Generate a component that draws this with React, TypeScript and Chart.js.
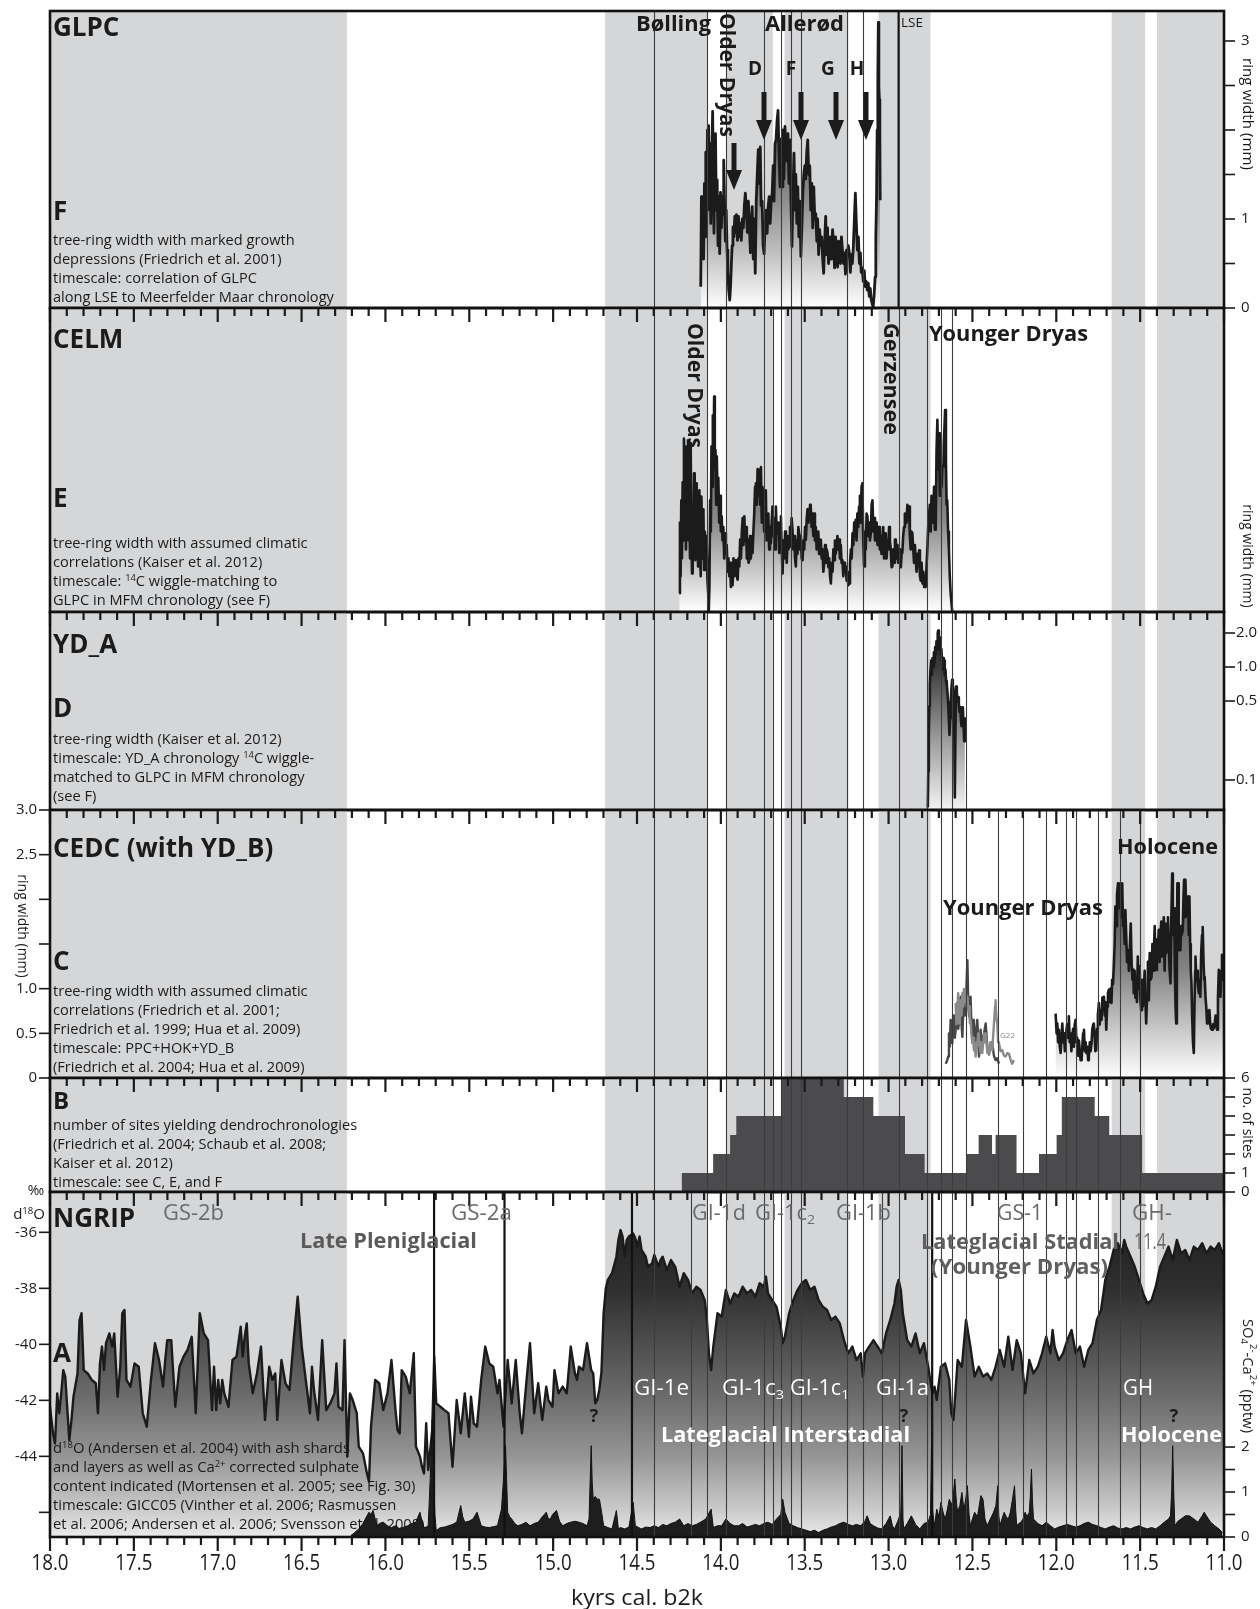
import React, { useEffect, useRef } from 'react';
import { Chart, registerables } from 'chart.js';
Chart.register(...registerables);

const FONT = '"Open Sans", "Noto Sans", "DejaVu Sans", sans-serif';
const INK = '#1b1b1b';
const BAND = '#d5d6d8';
const GREY_TXT = '#6a6b6d';
const DESC_SIZE = 14.6;

// ---------- axis / tick labels ----------
const X_TICK_VALUES = [18.0, 17.5, 17.0, 16.5, 16.0, 15.5, 15.0, 14.5, 14.0, 13.5, 13.0, 12.5, 12.0, 11.5, 11.0];
const X_TICK_LABELS = ['18.0', '17.5', '17.0', '16.5', '16.0', '15.5', '15.0', '14.5', '14.0', '13.5', '13.0', '12.5', '12.0', '11.5', '11.0'];

// grey chronozone bands (kyr b2k)
const GREY_BANDS: [number, number][] = [[18.0, 16.23], [14.69, 14.08], [13.97, 13.69], [13.62, 13.24], [13.06, 12.75], [11.67, 11.47], [11.40, 11.0]];

// vertical marker lines per panel (kyr b2k)
const LINES_F = [14.40, 14.08, 13.97, 13.74, 13.64, 13.58, 13.52, 13.25, 13.15];
const LINES_E = [...LINES_F, 13.69, 12.94, 12.77, 12.69, 12.62];
const LINES_D = [...LINES_E, 12.54];
const LINES_C = [...LINES_D, 12.35, 12.20, 12.06, 11.94, 11.88, 11.75, 11.62, 11.50];
const LINES_A = [...LINES_C, 14.18, 13.04];
const THICK_F = [12.94];
const THICK_A = [15.71, 15.29, 14.53, 12.74];

// ---------- F: GLPC ring width (mm) ----------
const GLPC: [number, number][] = [
[14.120,0.24],[14.116,1.25],[14.113,0.60],[14.108,1.21],[14.103,0.55],[14.098,1.40],[14.094,0.80],[14.090,1.75],[14.085,1.00],[14.080,2.00],
[14.076,1.30],[14.073,2.05],[14.068,1.10],[14.064,1.85],[14.060,0.95],[14.055,1.60],[14.049,2.21],[14.045,1.50],[14.041,0.84],[14.037,1.70],
[14.032,1.96],[14.027,1.10],[14.022,1.44],[14.017,0.70],[14.012,1.25],[14.007,0.61],[14.002,1.30],[13.997,0.90],[13.992,1.25],[13.987,1.05],
[13.983,1.66],[13.978,1.20],[13.973,0.75],[13.968,1.10],[13.963,0.65],[13.958,0.40],[13.953,0.20],[13.947,0.09],[13.942,0.25],[13.938,0.46],
[13.933,0.70],[13.928,0.91],[13.922,0.80],[13.917,1.03],[13.912,0.85],[13.907,1.05],[13.901,0.76],[13.895,1.03],[13.889,0.80],[13.884,0.95],
[13.878,0.76],[13.872,1.00],[13.866,0.90],[13.860,1.15],[13.854,1.29],[13.848,1.10],[13.842,0.85],[13.836,1.20],[13.830,0.95],[13.824,0.62],
[13.819,0.90],[13.813,1.14],[13.807,0.55],[13.801,1.00],[13.795,0.39],[13.789,1.20],[13.783,1.50],[13.777,1.78],[13.771,1.40],[13.765,1.81],
[13.760,1.15],[13.754,1.20],[13.748,0.70],[13.742,0.61],[13.736,0.95],[13.730,1.10],[13.724,0.84],[13.718,1.14],[13.712,1.25],[13.706,0.95],
[13.700,1.20],[13.694,1.29],[13.688,1.60],[13.683,1.20],[13.677,1.85],[13.671,1.89],[13.665,2.10],[13.659,2.22],[13.653,1.70],[13.647,1.36],
[13.641,1.90],[13.635,1.36],[13.630,2.00],[13.624,1.45],[13.618,2.04],[13.612,1.80],[13.606,1.65],[13.600,1.96],[13.594,1.40],[13.588,1.89],
[13.582,1.20],[13.576,0.69],[13.570,1.30],[13.564,1.74],[13.558,1.10],[13.553,1.50],[13.547,0.95],[13.541,1.36],[13.535,0.80],[13.529,1.20],
[13.523,0.58],[13.517,0.90],[13.511,1.30],[13.505,1.51],[13.499,1.60],[13.494,1.45],[13.488,1.75],[13.482,1.89],[13.476,1.50],[13.470,1.60],
[13.464,1.10],[13.458,1.40],[13.452,0.90],[13.446,1.36],[13.440,1.00],[13.434,1.06],[13.428,0.75],[13.423,1.00],[13.417,0.60],[13.411,0.88],
[13.405,0.70],[13.399,0.80],[13.393,0.55],[13.387,0.39],[13.381,0.75],[13.375,1.03],[13.370,0.60],[13.364,0.90],[13.358,0.50],[13.352,0.58],
[13.346,0.80],[13.340,0.55],[13.334,0.88],[13.328,0.73],[13.322,0.45],[13.316,0.80],[13.310,0.60],[13.304,0.46],[13.298,0.75],[13.293,0.68],
[13.287,0.50],[13.281,0.80],[13.275,0.65],[13.269,0.50],[13.263,0.62],[13.257,0.38],[13.251,0.65],[13.245,0.58],[13.240,0.70],[13.234,0.62],
[13.228,0.40],[13.222,0.60],[13.216,0.50],[13.210,0.69],[13.204,1.00],[13.198,1.29],[13.192,0.95],[13.186,0.65],[13.180,0.80],[13.174,0.50],
[13.168,0.62],[13.163,0.40],[13.157,0.45],[13.151,0.30],[13.145,0.42],[13.139,0.24],[13.133,0.30],[13.127,0.20],[13.121,0.28],[13.115,0.13],
[13.109,0.22],[13.104,0.10],[13.098,0.05],[13.092,0.01],[13.086,0.15],[13.080,0.35],[13.076,0.80],[13.072,1.21],[13.068,2.00],[13.064,2.60],
[13.061,3.21],[13.058,2.50],[13.055,2.34],[13.052,1.90],[13.050,1.21]
];

// ---------- E: CELM ring width ----------
const CELM: [number, number][] = [
[14.248,0.21],[14.244,1.00],[14.240,0.40],[14.236,1.25],[14.232,0.60],[14.228,1.45],[14.224,0.80],[14.220,1.94],[14.216,1.10],[14.212,1.85],
[14.208,0.70],[14.204,1.60],[14.200,0.95],[14.196,1.92],[14.192,0.80],[14.188,1.30],[14.184,0.60],[14.180,1.89],[14.176,0.90],[14.172,0.43],
[14.168,1.20],[14.164,0.70],[14.160,1.55],[14.156,1.00],[14.152,0.58],[14.148,1.44],[14.144,0.80],[14.140,1.20],[14.136,0.51],[14.132,1.10],
[14.128,1.36],[14.124,0.70],[14.120,0.40],[14.116,1.29],[14.112,0.90],[14.108,0.60],[14.104,1.15],[14.100,0.47],[14.096,0.90],[14.090,0.70],
[14.085,0.85],[14.080,0.35],[14.075,0.20],[14.072,0.02],[14.068,0.30],[14.064,1.25],[14.060,0.90],[14.056,1.85],[14.052,1.40],[14.048,2.20],
[14.044,1.60],[14.040,2.41],[14.036,1.70],[14.032,1.81],[14.028,1.20],[14.024,1.74],[14.020,1.30],[14.015,1.50],[14.010,1.00],[14.005,1.30],
[14.000,0.90],[13.995,1.07],[13.990,0.80],[13.985,0.95],[13.980,0.60],[13.975,0.88],[13.970,0.66],[13.965,0.75],[13.960,0.45],[13.955,0.60],
[13.950,0.40],[13.945,0.55],[13.940,0.28],[13.935,0.45],[13.930,0.30],[13.925,0.60],[13.920,0.40],[13.915,0.55],[13.910,0.58],[13.905,0.40],
[13.900,0.36],[13.895,0.60],[13.890,0.51],[13.885,0.81],[13.880,0.60],[13.875,0.90],[13.870,1.05],[13.865,0.75],[13.860,1.07],[13.855,0.80],
[13.850,0.95],[13.845,0.60],[13.840,0.81],[13.835,0.55],[13.831,0.58],[13.826,0.85],[13.821,0.60],[13.816,0.75],[13.811,0.66],[13.806,0.90],
[13.801,1.10],[13.796,1.40],[13.791,1.44],[13.786,1.20],[13.781,1.60],[13.776,1.30],[13.771,1.59],[13.766,1.20],[13.761,1.62],[13.756,1.00],
[13.752,1.40],[13.747,1.29],[13.742,0.90],[13.737,1.20],[13.732,1.36],[13.727,0.80],[13.722,0.88],[13.717,1.10],[13.712,0.70],[13.707,0.95],
[13.702,0.77],[13.697,1.00],[13.692,1.18],[13.687,0.85],[13.682,1.05],[13.677,0.70],[13.672,1.18],[13.667,0.90],[13.662,0.88],[13.657,1.00],
[13.652,0.66],[13.647,0.85],[13.642,1.07],[13.637,0.70],[13.632,0.43],[13.627,0.80],[13.622,0.60],[13.617,0.90],[13.612,0.77],[13.607,0.55],
[13.602,0.85],[13.598,0.70],[13.593,0.73],[13.588,0.95],[13.583,0.80],[13.578,1.05],[13.573,0.92],[13.568,0.70],[13.563,0.85],[13.558,0.60],
[13.553,0.51],[13.548,0.80],[13.543,0.65],[13.538,0.95],[13.533,0.88],[13.528,0.70],[13.523,0.85],[13.518,0.60],[13.513,0.58],[13.508,0.80],
[13.503,0.70],[13.498,0.95],[13.493,0.81],[13.488,1.05],[13.483,1.15],[13.478,1.00],[13.473,1.07],[13.468,1.20],[13.464,1.18],[13.459,0.95],
[13.454,1.10],[13.449,0.85],[13.444,1.10],[13.439,0.80],[13.434,0.95],[13.429,0.70],[13.424,0.77],[13.419,0.90],[13.414,0.65],[13.409,0.80],
[13.404,0.81],[13.399,0.60],[13.394,0.70],[13.389,0.45],[13.384,0.54],[13.379,0.75],[13.374,0.55],[13.369,0.70],[13.364,0.66],[13.359,0.50],
[13.354,0.60],[13.349,0.40],[13.344,0.32],[13.339,0.55],[13.334,0.45],[13.329,0.70],[13.325,0.58],[13.320,0.80],[13.315,0.65],[13.310,0.75],
[13.305,0.85],[13.300,0.70],[13.295,0.81],[13.290,0.60],[13.285,0.75],[13.280,0.55],[13.275,0.58],[13.270,0.40],[13.265,0.55],[13.260,0.45],
[13.255,0.51],[13.250,0.35],[13.245,0.45],[13.240,0.30],[13.235,0.32],[13.230,0.55],[13.225,0.70],[13.220,0.60],[13.215,0.88],[13.210,0.75],
[13.205,1.00],[13.200,0.85],[13.196,1.03],[13.191,0.80],[13.186,1.10],[13.181,0.95],[13.176,1.18],[13.171,1.30],[13.166,1.00],[13.161,1.40],
[13.156,1.44],[13.151,0.80],[13.146,0.51],[13.141,0.90],[13.136,0.70],[13.131,1.10],[13.126,1.07],[13.121,0.85],[13.116,1.00],[13.111,0.80],
[13.106,0.88],[13.101,1.20],[13.096,1.25],[13.091,0.90],[13.086,1.05],[13.081,0.80],[13.076,0.81],[13.071,1.00],[13.066,0.75],[13.061,0.95],
[13.057,0.95],[13.052,0.70],[13.047,0.85],[13.042,0.65],[13.037,0.81],[13.032,0.95],[13.027,0.60],[13.022,0.88],[13.017,0.88],[13.012,0.60],
[13.007,0.80],[13.002,0.70],[12.997,0.95],[12.992,0.80],[12.987,0.70],[12.982,0.50],[12.977,0.51],[12.972,0.70],[12.967,0.55],[12.962,0.81],
[12.957,0.81],[12.952,0.60],[12.947,0.75],[12.942,0.55],[12.937,0.58],[12.932,0.70],[12.927,0.50],[12.922,0.66],[12.918,0.66],[12.913,0.85],
[12.908,0.95],[12.903,1.10],[12.898,1.07],[12.893,1.00],[12.888,1.20],[12.883,1.03],[12.878,1.18],[12.873,0.85],[12.868,0.70],[12.863,0.90],
[12.858,0.88],[12.853,0.70],[12.848,0.55],[12.843,0.75],[12.838,0.58],[12.833,0.45],[12.828,0.65],[12.823,0.50],[12.818,0.69],[12.813,0.40],
[12.808,0.35],[12.803,0.55],[12.798,0.32],[12.793,0.45],[12.788,0.28],[12.783,0.40],[12.779,0.28],[12.774,0.50],[12.769,0.70],[12.764,0.95],
[12.759,1.07],[12.754,1.20],[12.749,0.90],[12.744,1.30],[12.739,1.25],[12.734,1.00],[12.729,1.40],[12.724,0.92],[12.719,0.92],[12.714,1.80],
[12.709,2.15],[12.704,1.60],[12.699,2.00],[12.694,1.30],[12.689,1.92],[12.684,1.40],[12.680,1.63],[12.675,1.63],[12.670,1.90],[12.666,2.10],
[12.663,2.26],[12.658,1.70],[12.654,1.20],[12.650,1.25],[12.645,0.90],[12.640,0.69],[12.635,0.40],[12.630,0.21],[12.625,0.10],[12.620,0.00]
];

// ---------- D: YD_A ring width (log mm) ----------
const YDA: [number, number][] = [
[12.766,0.057],[12.763,0.12],[12.760,0.25],[12.757,0.45],[12.754,0.70],[12.750,0.95],[12.746,1.14],[12.742,0.85],[12.738,1.20],[12.734,1.00],
[12.730,1.35],[12.726,1.10],[12.722,1.50],[12.718,1.30],[12.714,1.70],[12.710,1.45],[12.707,2.00],[12.704,2.10],[12.700,1.70],[12.696,1.85],
[12.693,1.60],[12.689,1.30],[12.685,1.45],[12.681,1.10],[12.679,0.95],[12.675,1.20],[12.671,1.00],[12.669,1.14],[12.665,0.85],[12.661,0.95],
[12.657,0.75],[12.653,0.70],[12.649,0.60],[12.645,0.49],[12.641,0.35],[12.637,0.25],[12.633,0.35],[12.629,0.49],[12.625,0.65],[12.621,0.77],
[12.617,0.70],[12.613,0.62],[12.609,0.40],[12.605,0.07],[12.601,0.30],[12.597,0.67],[12.593,0.60],[12.589,0.50],[12.585,0.54],[12.581,0.48],
[12.577,0.40],[12.573,0.44],[12.569,0.35],[12.565,0.30],[12.561,0.38],[12.557,0.44],[12.553,0.30],[12.549,0.22],[12.545,0.36]
];

// ---------- C: CEDC (with YD_B) ring width (mm) ----------
const CEDC_YD_DARK: [number, number][] = [
[12.659,0.16],[12.650,0.20],[12.645,0.24],[12.640,0.50],[12.635,0.35],[12.630,0.65],[12.625,0.40],[12.620,0.39],[12.615,0.70],[12.610,0.69],
[12.605,0.45],[12.600,0.54],[12.595,0.80],[12.590,0.84],[12.585,0.55],[12.580,0.61],[12.575,0.85],[12.570,0.91],[12.565,0.60],[12.560,0.46],
[12.555,0.75],[12.550,0.99],[12.545,0.70],[12.540,0.76],[12.535,1.05],[12.530,1.32],[12.525,0.85],[12.520,0.69],[12.515,0.80],[12.511,0.91],
[12.506,0.60],[12.501,0.46],[12.496,0.65],[12.491,0.61],[12.486,0.40],[12.481,0.39],[12.476,0.55],[12.471,0.65],[12.466,0.45],[12.461,0.24],
[12.456,0.40],[12.451,0.54],[12.446,0.35],[12.441,0.39],[12.431,0.50],[12.421,0.61],[12.411,0.35],[12.401,0.28],[12.391,0.40],[12.382,0.39],
[12.372,0.25],[12.362,0.20],[12.352,0.22],[12.342,0.16]
];
const CEDC_YD_LIGHT: [number, number][] = [
[12.600,0.84],[12.595,0.60],[12.590,0.75],[12.585,0.95],[12.580,0.61],[12.575,0.80],[12.570,0.87],[12.565,0.70],[12.560,0.95],[12.555,0.80],
[12.550,0.99],[12.545,0.85],[12.540,0.99],[12.535,0.80],[12.530,0.91],[12.525,0.76],[12.520,0.80],[12.515,0.61],[12.511,0.65],[12.506,0.50],
[12.501,0.39],[12.496,0.45],[12.491,0.31],[12.486,0.35],[12.481,0.24],[12.476,0.40],[12.471,0.36],[12.466,0.50],[12.461,0.46],[12.456,0.35],
[12.451,0.28],[12.446,0.40],[12.441,0.28],[12.431,0.50],[12.426,0.40],[12.421,0.50],[12.411,0.28],[12.406,0.35],[12.401,0.26],[12.391,0.40],
[12.382,0.31],[12.372,0.60],[12.365,0.80],[12.362,0.87],[12.358,0.70],[12.352,0.61],[12.347,0.40],[12.342,0.39],[12.332,0.30],[12.322,0.31],
[12.312,0.25],[12.302,0.24],[12.292,0.28],[12.282,0.27],[12.272,0.20],[12.263,0.16],[12.253,0.20]
];
const CEDC: [number, number][] = [
[12.004,0.72],[11.998,0.50],[11.994,0.61],[11.989,0.40],[11.984,0.54],[11.979,0.35],[11.974,0.28],[11.969,0.45],[11.964,0.61],[11.959,0.40],
[11.954,0.50],[11.949,0.30],[11.944,0.39],[11.939,0.55],[11.935,0.60],[11.930,0.45],[11.925,0.69],[11.920,0.40],[11.915,0.50],[11.910,0.30],
[11.905,0.46],[11.900,0.55],[11.895,0.35],[11.890,0.60],[11.885,0.65],[11.880,0.40],[11.875,0.45],[11.870,0.25],[11.865,0.42],[11.860,0.30],
[11.855,0.20],[11.849,0.20],[11.845,0.35],[11.840,0.50],[11.835,0.54],[11.830,0.30],[11.825,0.40],[11.821,0.28],[11.815,0.35],[11.810,0.20],
[11.806,0.24],[11.800,0.40],[11.795,0.30],[11.790,0.39],[11.785,0.55],[11.780,0.60],[11.776,0.61],[11.771,0.45],[11.767,0.30],[11.762,0.31],
[11.757,0.55],[11.752,0.70],[11.746,0.84],[11.741,0.60],[11.736,0.75],[11.730,0.65],[11.725,0.90],[11.720,0.80],[11.716,0.91],[11.711,0.70],
[11.707,0.85],[11.702,0.54],[11.697,0.80],[11.692,0.95],[11.686,0.99],[11.681,0.85],[11.676,1.00],[11.671,0.84],[11.667,1.10],[11.662,1.05],
[11.657,1.25],[11.652,1.50],[11.648,1.92],[11.643,1.70],[11.638,2.05],[11.632,2.18],[11.627,1.90],[11.622,2.10],[11.617,1.99],[11.612,1.80],
[11.607,2.18],[11.602,1.70],[11.597,1.73],[11.592,1.50],[11.588,1.88],[11.583,1.60],[11.578,1.30],[11.572,1.43],[11.567,1.20],[11.562,1.45],
[11.556,1.73],[11.551,1.30],[11.546,1.10],[11.541,1.21],[11.538,0.95],[11.533,1.20],[11.528,0.90],[11.524,1.13],[11.519,0.85],[11.514,1.36],
[11.508,1.00],[11.503,1.25],[11.499,0.90],[11.494,0.76],[11.489,1.10],[11.484,0.80],[11.478,0.99],[11.473,1.20],[11.469,0.90],[11.464,0.61],
[11.459,0.90],[11.454,1.30],[11.448,0.87],[11.443,1.40],[11.438,1.10],[11.432,1.13],[11.427,1.50],[11.422,1.20],[11.418,1.43],[11.413,1.70],
[11.409,1.25],[11.405,1.21],[11.400,1.55],[11.395,1.40],[11.389,1.66],[11.384,1.30],[11.379,1.60],[11.374,1.75],[11.369,1.36],[11.364,1.50],
[11.359,1.80],[11.354,1.20],[11.349,1.73],[11.344,1.40],[11.339,1.51],[11.334,1.80],[11.329,1.51],[11.324,1.20],[11.319,1.06],[11.314,1.80],
[11.309,2.29],[11.305,1.60],[11.301,1.66],[11.297,1.90],[11.293,1.20],[11.289,0.80],[11.285,0.61],[11.281,1.40],[11.278,2.18],[11.274,2.18],
[11.270,1.60],[11.266,1.43],[11.260,1.43],[11.256,1.70],[11.252,1.60],[11.246,1.66],[11.242,2.00],[11.238,2.22],[11.234,1.80],[11.230,2.22],
[11.226,1.90],[11.222,1.81],[11.218,1.81],[11.214,2.03],[11.210,1.60],[11.206,2.03],[11.202,1.50],[11.198,1.20],[11.194,1.06],[11.190,0.70],
[11.185,0.40],[11.180,0.28],[11.176,0.80],[11.172,1.20],[11.170,1.36],[11.165,1.10],[11.160,1.20],[11.156,1.06],[11.150,0.95],[11.145,1.10],
[11.141,0.91],[11.136,1.40],[11.131,1.60],[11.127,1.69],[11.122,1.30],[11.118,1.10],[11.115,1.13],[11.110,0.90],[11.106,0.80],[11.101,0.61],
[11.096,0.75],[11.091,0.70],[11.087,0.76],[11.082,0.60],[11.077,0.55],[11.071,0.54],[11.066,0.60],[11.060,0.56],[11.055,0.61],[11.050,0.70],
[11.045,0.58],[11.041,0.54],[11.036,0.90],[11.031,1.21],[11.026,1.00],[11.021,0.91],[11.016,1.20],[11.012,1.38],[11.005,1.10],[11.000,1.25]
];

// ---------- B: number of sites (step starts, kyr) ----------
const SITES_T = [14.234, 14.046, 13.945, 13.908, 13.638, 13.267, 13.091, 12.902, 12.785, 12.533, 12.463, 12.383, 12.362, 12.237, 12.103, 11.998, 11.967, 11.771, 11.684, 11.488, 11.0];
const SITES_N = [1, 2, 3, 4, 6, 5, 4, 2, 1, 2, 3, 2, 3, 1, 2, 3, 5, 4, 3, 1, 1];

// ---------- A: NGRIP d18O (permil) ----------
const NGRIP_D18O: [number, number][] = [
[18.000,-42.23],[17.982,-43.18],[17.970,-43.54],[17.957,-41.75],[17.945,-42.46],[17.933,-41.75],[17.921,-40.92],[17.909,-41.15],[17.885,-43.42],[17.872,-42.70],
[17.860,-41.87],[17.836,-41.04],[17.824,-39.13],[17.812,-38.89],[17.799,-40.92],[17.775,-41.04],[17.751,-41.27],[17.727,-41.39],[17.714,-42.46],[17.702,-40.68],
[17.690,-40.08],[17.678,-40.92],[17.666,-39.96],[17.646,-39.61],[17.629,-40.08],[17.617,-39.61],[17.597,-41.87],[17.581,-40.80],[17.569,-38.89],[17.556,-38.77],
[17.544,-41.27],[17.520,-41.51],[17.496,-40.68],[17.471,-40.80],[17.447,-42.46],[17.423,-42.94],[17.398,-41.27],[17.374,-39.96],[17.350,-40.56],[17.326,-41.51],
[17.313,-40.56],[17.301,-39.85],[17.277,-39.85],[17.253,-42.23],[17.228,-40.80],[17.204,-40.44],[17.180,-40.20],[17.155,-39.73],[17.131,-42.46],[17.107,-38.89],
[17.083,-39.61],[17.058,-39.85],[17.034,-42.35],[17.022,-40.80],[17.009,-42.35],[16.997,-41.27],[16.985,-42.11],[16.973,-41.27],[16.961,-41.75],[16.936,-42.23],
[16.912,-40.56],[16.888,-40.44],[16.863,-39.37],[16.851,-40.44],[16.839,-39.73],[16.827,-39.25],[16.815,-40.68],[16.791,-41.75],[16.766,-41.04],[16.742,-40.08],
[16.718,-42.70],[16.693,-40.80],[16.674,-41.27],[16.657,-41.04],[16.645,-42.70],[16.620,-40.56],[16.596,-41.39],[16.572,-41.63],[16.547,-39.85],[16.523,-38.30],
[16.499,-40.08],[16.475,-41.27],[16.450,-42.46],[16.438,-40.80],[16.426,-41.63],[16.402,-42.70],[16.377,-39.85],[16.353,-42.35],[16.329,-42.11],[16.304,-41.75],
[16.292,-40.68],[16.280,-42.23],[16.256,-42.35],[16.244,-39.85],[16.227,-44.01],[16.212,-41.75],[16.195,-41.99],[16.171,-42.46],[16.159,-43.65],[16.134,-43.89],
[16.110,-44.61],[16.098,-44.90],[16.086,-42.94],[16.061,-41.27],[16.037,-41.39],[16.013,-42.35],[15.988,-41.75],[15.964,-40.56],[15.940,-42.35],[15.928,-43.06],
[15.915,-43.18],[15.903,-40.92],[15.879,-41.15],[15.855,-41.75],[15.831,-40.32],[15.818,-43.65],[15.794,-44.01],[15.782,-44.37],[15.770,-44.61],[15.757,-42.82],
[15.745,-44.49],[15.721,-43.06],[15.709,-40.44],[15.697,-42.11],[15.672,-42.23],[15.648,-42.35],[15.624,-42.46],[15.600,-44.37],[15.575,-41.99],[15.551,-43.18],
[15.527,-41.75],[15.502,-43.30],[15.490,-41.87],[15.473,-42.82],[15.454,-42.94],[15.429,-41.27],[15.405,-40.08],[15.381,-40.68],[15.357,-40.80],[15.332,-41.75],
[15.320,-41.27],[15.296,-42.94],[15.271,-40.56],[15.247,-42.11],[15.223,-40.56],[15.199,-42.46],[15.186,-43.18],[15.162,-41.51],[15.138,-39.96],[15.113,-42.46],
[15.089,-41.39],[15.065,-42.70],[15.041,-41.51],[15.028,-41.99],[15.004,-42.23],[14.992,-40.92],[14.968,-41.75],[14.943,-41.51],[14.919,-41.75],[14.895,-40.08],
[14.870,-41.04],[14.858,-41.27],[14.846,-40.80],[14.822,-40.92],[14.798,-39.96],[14.773,-40.92],[14.761,-41.04],[14.749,-42.11],[14.737,-41.99],[14.725,-41.63],
[14.712,-41.00],[14.699,-38.89],[14.686,-38.00],[14.674,-37.70],[14.649,-37.46],[14.623,-36.87],[14.611,-36.27],[14.598,-35.92],[14.586,-36.15],[14.573,-36.87],
[14.561,-36.27],[14.548,-36.15],[14.523,-36.04],[14.510,-36.21],[14.498,-36.51],[14.485,-36.15],[14.473,-36.63],[14.448,-36.87],[14.435,-37.23],[14.410,-37.11],
[14.397,-36.81],[14.372,-37.23],[14.360,-36.99],[14.347,-36.87],[14.322,-37.35],[14.297,-36.99],[14.272,-37.23],[14.246,-37.94],[14.221,-37.46],[14.196,-37.70],
[14.171,-38.18],[14.146,-37.94],[14.121,-38.06],[14.096,-38.42],[14.083,-39.13],[14.071,-40.32],[14.058,-40.92],[14.045,-40.08],[14.020,-38.89],[13.995,-39.01],
[13.970,-38.06],[13.945,-38.54],[13.920,-38.18],[13.895,-38.30],[13.870,-37.94],[13.844,-38.18],[13.819,-38.06],[13.794,-38.30],[13.769,-37.82],[13.744,-37.94],
[13.731,-37.58],[13.719,-38.18],[13.694,-38.42],[13.668,-38.66],[13.643,-39.37],[13.631,-39.96],[13.618,-39.73],[13.593,-38.89],[13.568,-38.42],[13.543,-38.06],
[13.518,-37.82],[13.493,-37.70],[13.467,-38.06],[13.442,-37.94],[13.417,-38.42],[13.392,-38.66],[13.367,-38.77],[13.342,-39.13],[13.317,-39.01],[13.291,-39.25],
[13.266,-39.85],[13.241,-40.32],[13.216,-40.08],[13.191,-40.56],[13.166,-40.32],[13.153,-41.15],[13.141,-40.32],[13.116,-40.08],[13.090,-39.85],[13.065,-40.08],
[13.040,-40.32],[13.015,-39.61],[12.990,-39.13],[12.965,-38.54],[12.952,-37.94],[12.940,-37.70],[12.927,-38.06],[12.915,-38.89],[12.889,-39.85],[12.864,-40.08],
[12.839,-39.61],[12.814,-40.32],[12.789,-39.96],[12.764,-40.80],[12.739,-41.75],[12.726,-41.51],[12.713,-41.99],[12.688,-40.80],[12.663,-40.68],[12.638,-41.27],
[12.626,-42.46],[12.613,-42.70],[12.588,-40.56],[12.563,-40.80],[12.538,-39.13],[12.512,-40.08],[12.487,-41.15],[12.462,-40.80],[12.437,-41.15],[12.412,-41.04],
[12.387,-41.27],[12.362,-40.80],[12.337,-40.20],[12.311,-40.80],[12.286,-39.73],[12.261,-40.92],[12.236,-39.85],[12.211,-40.32],[12.186,-41.75],[12.161,-40.56],
[12.136,-41.04],[12.110,-40.80],[12.085,-40.32],[12.060,-39.73],[12.035,-40.32],[12.022,-39.49],[12.010,-40.08],[11.985,-40.56],[11.960,-40.32],[11.934,-39.85],
[11.909,-39.49],[11.884,-40.32],[11.859,-40.08],[11.834,-40.80],[11.809,-40.20],[11.784,-39.96],[11.758,-39.13],[11.733,-38.77],[11.708,-37.70],[11.683,-37.23],
[11.658,-36.63],[11.633,-36.39],[11.608,-36.75],[11.595,-36.27],[11.583,-36.51],[11.557,-36.87],[11.532,-37.23],[11.507,-37.70],[11.482,-38.18],[11.457,-38.54],
[11.432,-38.42],[11.407,-37.94],[11.381,-37.23],[11.356,-36.87],[11.331,-36.51],[11.306,-36.99],[11.281,-36.27],[11.256,-36.75],[11.231,-36.63],[11.206,-36.99],
[11.180,-36.51],[11.155,-36.63],[11.130,-36.39],[11.105,-36.75],[11.080,-36.51],[11.055,-36.63],[11.030,-36.39],[11.010,-36.75],[11.000,-36.60]
];

// ---------- A: NGRIP Ca-corrected sulphate (pptw) ----------
const NGRIP_SO4: [number, number][] = [
[16.207,0.03],[16.183,0.10],[16.159,0.18],[16.134,0.30],[16.110,0.47],[16.098,0.55],[16.086,0.50],[16.074,0.59],[16.061,0.40],[16.049,0.25],
[16.037,0.30],[16.013,0.33],[15.988,0.25],[15.964,0.21],[15.940,0.25],[15.915,0.18],[15.891,0.22],[15.867,0.25],[15.843,0.30],[15.818,0.33],
[15.806,0.45],[15.794,0.55],[15.782,0.35],[15.770,0.21],[15.757,0.22],[15.745,0.25],[15.733,1.29],[15.721,2.62],[15.714,1.44],[15.705,0.50],
[15.697,0.14],[15.685,0.18],[15.672,0.21],[15.648,0.22],[15.624,0.25],[15.600,0.28],[15.575,0.33],[15.551,0.70],[15.539,0.45],[15.527,0.33],
[15.502,0.35],[15.478,0.40],[15.454,0.55],[15.441,0.40],[15.429,0.25],[15.405,0.22],[15.381,0.21],[15.357,0.23],[15.332,0.25],[15.308,0.62],
[15.296,1.29],[15.284,2.03],[15.271,0.55],[15.259,0.45],[15.247,0.40],[15.229,0.30],[15.211,0.25],[15.186,0.28],[15.162,0.33],[15.138,0.25],
[15.113,0.30],[15.089,0.33],[15.065,0.45],[15.041,0.55],[15.028,0.40],[15.016,0.40],[15.004,0.50],[14.980,0.59],[14.962,0.35],[14.943,0.25],
[14.919,0.30],[14.895,0.33],[14.870,0.35],[14.846,0.33],[14.822,0.30],[14.798,0.25],[14.786,0.40],[14.773,2.03],[14.767,1.20],[14.761,0.84],
[14.749,0.90],[14.737,0.84],[14.724,0.84],[14.711,0.55],[14.699,0.25],[14.674,0.21],[14.649,0.18],[14.623,0.59],[14.611,0.18],[14.598,0.21],
[14.573,0.18],[14.548,0.22],[14.523,0.77],[14.510,0.25],[14.490,0.21],[14.473,0.18],[14.448,0.22],[14.422,0.21],[14.397,0.25],[14.372,0.21],
[14.347,0.28],[14.322,0.25],[14.297,0.30],[14.272,0.33],[14.246,0.40],[14.221,0.25],[14.196,0.30],[14.171,0.25],[14.146,0.28],[14.121,0.33],
[14.090,0.40],[14.058,0.62],[14.045,0.21],[14.020,0.25],[13.995,0.25],[13.970,0.40],[13.945,0.30],[13.920,0.25],[13.895,0.25],[13.870,0.30],
[13.844,0.22],[13.819,0.25],[13.794,0.28],[13.769,0.25],[13.744,0.30],[13.719,0.33],[13.694,0.28],[13.668,0.40],[13.643,0.50],[13.631,0.84],
[13.618,0.55],[13.593,0.30],[13.568,0.25],[13.543,0.21],[13.518,0.18],[13.492,0.15],[13.467,0.12],[13.442,0.15],[13.417,0.10],[13.392,0.15],
[13.367,0.18],[13.342,0.22],[13.317,0.25],[13.291,0.30],[13.266,0.33],[13.241,0.28],[13.216,0.25],[13.191,0.28],[13.166,0.25],[13.141,0.35],
[13.128,0.47],[13.110,0.30],[13.090,0.25],[13.065,0.20],[13.040,0.18],[13.015,0.30],[12.990,0.47],[12.977,0.25],[12.965,0.18],[12.945,0.35],
[12.927,0.55],[12.920,2.03],[12.914,0.40],[12.910,0.18],[12.889,0.30],[12.864,0.47],[12.839,0.28],[12.814,0.18],[12.789,0.30],[12.764,0.33],
[12.750,0.50],[12.744,2.03],[12.738,0.60],[12.726,0.25],[12.713,0.62],[12.700,0.45],[12.688,0.77],[12.675,0.55],[12.663,0.40],[12.650,0.60],
[12.638,0.84],[12.620,0.70],[12.605,1.29],[12.595,0.75],[12.588,0.55],[12.575,0.70],[12.563,0.99],[12.550,0.60],[12.538,0.90],[12.530,1.14],
[12.520,0.50],[12.512,0.25],[12.500,0.40],[12.487,0.55],[12.470,0.45],[12.450,0.92],[12.437,0.84],[12.425,0.40],[12.412,0.25],[12.400,0.35],
[12.387,0.45],[12.374,0.55],[12.360,0.70],[12.349,1.14],[12.343,0.50],[12.337,0.25],[12.324,0.40],[12.311,0.55],[12.298,0.45],[12.286,0.40],
[12.274,0.55],[12.261,0.84],[12.249,1.14],[12.242,0.60],[12.236,0.25],[12.224,0.30],[12.211,0.33],[12.198,0.40],[12.186,0.55],[12.174,0.45],
[12.161,0.55],[12.155,0.90],[12.148,1.51],[12.142,0.80],[12.136,0.40],[12.110,0.30],[12.085,0.25],[12.060,0.33],[12.035,0.25],[12.010,0.18],
[11.985,0.22],[11.960,0.25],[11.934,0.28],[11.909,0.25],[11.884,0.22],[11.859,0.25],[11.834,0.30],[11.809,0.33],[11.784,0.28],[11.758,0.25],
[11.733,0.21],[11.708,0.18],[11.683,0.22],[11.658,0.25],[11.633,0.20],[11.608,0.18],[11.583,0.21],[11.557,0.18],[11.532,0.22],[11.507,0.25],
[11.482,0.21],[11.457,0.18],[11.432,0.21],[11.407,0.18],[11.381,0.25],[11.356,0.33],[11.331,0.40],[11.319,0.47],[11.312,1.00],[11.306,2.03],
[11.299,0.90],[11.293,0.25],[11.275,0.35],[11.256,0.40],[11.231,0.47],[11.206,0.47],[11.180,0.40],[11.155,0.33],[11.130,0.47],[11.118,0.55],
[11.105,0.47],[11.080,0.33],[11.055,0.25],[11.030,0.18],[11.010,0.10]
];

// ================= drawing helpers =================
function T(ctx: CanvasRenderingContext2D, s: string, x: number, y: number, o: any = {}) {
  const size = o.size ?? 14;
  const weight = o.weight ?? 'normal';
  const segs = s.split(/(\^\{[^}]*\}|_\{[^}]*\})/).filter((q) => q.length > 0);
  const items = segs.map((seg) => {
    let kind = 0;
    let t = seg;
    if (seg.startsWith('^{')) { kind = 1; t = seg.slice(2, -1); }
    else if (seg.startsWith('_{')) { kind = 2; t = seg.slice(2, -1); }
    const fs = kind ? size * 0.64 : size;
    ctx.font = `${weight} ${fs}px ${FONT}`;
    return { kind, t, fs, wd: ctx.measureText(t).width };
  });
  const total = items.reduce((a, b) => a + b.wd, 0);
  ctx.save();
  ctx.translate(x, y);
  if (o.rot) ctx.rotate(o.rot);
  if (o.w && total > 0) ctx.scale(o.w / total, 1);
  ctx.fillStyle = o.color ?? INK;
  ctx.textBaseline = o.base ?? 'alphabetic';
  ctx.textAlign = 'left';
  const align = o.align ?? 'left';
  let cx = align === 'center' ? -total / 2 : align === 'right' ? -total : 0;
  for (const it of items) {
    ctx.font = `${weight} ${it.fs}px ${FONT}`;
    const dy = it.kind === 1 ? -size * 0.36 : it.kind === 2 ? size * 0.2 : 0;
    ctx.fillText(it.t, cx, dy);
    cx += it.wd;
  }
  ctx.restore();
}

function seg(ctx: CanvasRenderingContext2D, x1: number, y1: number, x2: number, y2: number) {
  ctx.beginPath();
  ctx.moveTo(x1, y1);
  ctx.lineTo(x2, y2);
  ctx.stroke();
}

function rightAxis(ctx: any, h: any, id: string, ticks: number[], labels: [number, string][], lx = 16) {
  ctx.save();
  ctx.strokeStyle = INK;
  ctx.lineWidth = 1.6;
  for (const v of ticks) { const y = h.py(id, v); seg(ctx, h.right, y, h.right + 11, y); }
  ctx.restore();
  for (const [v, s] of labels) T(ctx, s, h.right + lx, h.py(id, v), { size: 15, base: 'middle' });
}

function leftAxis(ctx: any, h: any, id: string, ticks: number[], labels: [number, string][]) {
  ctx.save();
  ctx.strokeStyle = INK;
  ctx.lineWidth = 1.6;
  for (const v of ticks) { const y = h.py(id, v); seg(ctx, h.left - 11, y, h.left, y); }
  ctx.restore();
  for (const [v, s] of labels) T(ctx, s, h.left - 13, h.py(id, v), { size: 15, base: 'middle', align: 'right' });
}

function rotTitle(ctx: any, s: string, x: number, y: number, size = 14, w?: number) {
  T(ctx, s, x, y, { size, rot: Math.PI / 2, align: 'center', base: 'middle', w });
}

function descLines(ctx: any, lines: string[], y0: number, size = DESC_SIZE) {
  lines.forEach((s, i) => T(ctx, s, 53, y0 + i * 19, { size }));
}

function arrow(ctx: any, x: number, y0: number, tip: number) {
  const head = 20;
  ctx.save();
  ctx.fillStyle = INK;
  ctx.fillRect(x - 2.5, y0, 5, tip - y0 - head + 1);
  ctx.beginPath();
  ctx.moveTo(x - 8, tip - head);
  ctx.lineTo(x + 8, tip - head);
  ctx.lineTo(x, tip);
  ctx.closePath();
  ctx.fill();
  ctx.restore();
}

function vGrad(stops: [number, string][], yId = 'y') {
  return (c: any) => {
    const chart = c.chart;
    const a = chart.chartArea;
    const s = chart.scales[yId];
    if (!a || !s) return 'rgba(0,0,0,0)';
    const g = chart.ctx.createLinearGradient(0, a.top, 0, a.bottom);
    for (const [v, col] of stops) {
      const y = s.getPixelForValue(v);
      g.addColorStop(Math.min(1, Math.max(0, (y - a.top) / (a.bottom - a.top))), col);
    }
    return g;
  };
}

const pts = (arr: [number, number][]) => arr.map(([x, y]) => ({ x, y }));
const lineDs = (arr: [number, number][], extra: any = {}) => ({
  data: pts(arr), borderColor: INK, borderWidth: 2.6, pointRadius: 0, tension: 0,
  borderJoinStyle: 'round', fill: false, ...extra,
});

// ================= panel specs =================
const SPECS: any[] = [
  {
    id: 'F', top: 11, bottom: 308,
    scales: { y: { type: 'linear', min: 0, max: 3.337, display: false } },
    datasets: () => [lineDs(GLPC, { fill: 'origin', borderWidth: 2.8, backgroundColor: vGrad([[2.0, '#5e5e5e'], [1.2, '#8e8e8e'], [0.6, '#c2c2c2'], [0, '#ffffff']]) })],
    lines: LINES_F, thick: THICK_F, topTicks: false,
    over: (ctx: any, h: any) => {
      T(ctx, 'GLPC', 53, 36, { size: 26, weight: 'bold' });
      T(ctx, 'F', 53, 220, { size: 26, weight: 'bold' });
      descLines(ctx, ['tree-ring width with marked growth', 'depressions (Friedrich et al. 2001)', 'timescale: correlation of GLPC', 'along LSE to Meerfelder Maar chronology'], 245);
      T(ctx, 'Bølling', 636, 31, { size: 21, weight: 'bold', w: 75 });
      T(ctx, 'Allerød', 765, 31, { size: 21, weight: 'bold', w: 79 });
      T(ctx, 'LSE', 901, 27, { size: 13, w: 22 });
      T(ctx, 'Older Dryas', 726, 13, { size: 21, weight: 'bold', rot: Math.PI / 2, base: 'middle', w: 124 });
      const letters: [string, number][] = [['D', 755], ['F', 791], ['G', 828], ['H', 857]];
      for (const [s, x] of letters) T(ctx, s, x, 75, { size: 19, weight: 'bold', align: 'center' });
      arrow(ctx, 764, 92, 140);
      arrow(ctx, 801, 92, 140);
      arrow(ctx, 836, 92, 140);
      arrow(ctx, 866, 92, 140);
      arrow(ctx, 734, 143, 190);
      rightAxis(ctx, h, 'y', [0, 0.5, 1, 1.5, 2, 2.5, 3], [[0, '0'], [1, '1'], [3, '3']], 17);
      rotTitle(ctx, 'ring width (mm)', 1247, 114, 14, 112);
    },
  },
  {
    id: 'E', top: 308, bottom: 612,
    scales: { y: { type: 'linear', min: 0, max: 3.40, display: false } },
    datasets: () => [lineDs(CELM, { fill: 'origin', backgroundColor: vGrad([[1.8, '#5a5a5a'], [1.0, '#8c8c8c'], [0.5, '#c4c4c4'], [0, '#ffffff']]) })],
    lines: LINES_E, thick: [], topTicks: true,
    over: (ctx: any) => {
      T(ctx, 'CELM', 53, 348, { size: 26, weight: 'bold' });
      T(ctx, 'E', 53, 507, { size: 26, weight: 'bold' });
      descLines(ctx, ['tree-ring width with assumed climatic', 'correlations (Kaiser et al. 2012)', 'timescale: ^{14}C wiggle-matching to', 'GLPC in MFM chronology (see F)'], 548);
      T(ctx, 'Older Dryas', 694, 323, { size: 21, weight: 'bold', rot: Math.PI / 2, base: 'middle', w: 125 });
      T(ctx, 'Gerzensee', 890, 323, { size: 21, weight: 'bold', rot: Math.PI / 2, base: 'middle', w: 112 });
      T(ctx, 'Younger Dryas', 929, 341, { size: 21, weight: 'bold', w: 159 });
      rotTitle(ctx, 'ring width (mm)', 1247, 556);
    },
  },
  {
    id: 'D', top: 612, bottom: 810,
    scales: { y: { type: 'logarithmic', min: 0.0542, max: 3.07, display: false } },
    datasets: () => [lineDs(YDA, { fill: 'start', backgroundColor: vGrad([[2.5, '#1a1a1a'], [1.0, '#3c3c3c'], [0.3, '#8a8a8a'], [0.0542, '#f4f4f4']]) })],
    lines: LINES_D, thick: [], topTicks: true,
    over: (ctx: any, h: any) => {
      T(ctx, 'YD_A', 53, 653, { size: 26, weight: 'bold' });
      T(ctx, 'D', 53, 717, { size: 26, weight: 'bold' });
      descLines(ctx, ['tree-ring width (Kaiser et al. 2012)', 'timescale: YD_A chronology ^{14}C wiggle-', 'matched to GLPC in MFM chronology', '(see F)'], 744);
      rightAxis(ctx, h, 'y', [2, 1, 0.5, 0.1], [[2, '2.0'], [1, '1.0'], [0.5, '0.5'], [0.1, '0.1']], 12);
    },
  },
  {
    id: 'C', top: 810, bottom: 1078,
    scales: { y: { type: 'linear', min: 0, max: 3.0, display: false } },
    datasets: () => [
      lineDs(CEDC, { fill: 'origin', backgroundColor: vGrad([[2.2, '#4a4a4a'], [1.2, '#858585'], [0.5, '#cdcdcd'], [0, '#ffffff']]) }),
      lineDs(CEDC_YD_LIGHT, { borderColor: '#8a8a8a', borderWidth: 2.4 }),
      lineDs(CEDC_YD_DARK, { borderColor: '#474747', borderWidth: 2.4 }),
    ],
    lines: LINES_C, thick: [], topTicks: true,
    over: (ctx: any, h: any) => {
      T(ctx, 'CEDC (with YD_B)', 53, 857, { size: 26, weight: 'bold' });
      T(ctx, 'C', 53, 970, { size: 26, weight: 'bold' });
      descLines(ctx, ['tree-ring width with assumed climatic', 'correlations (Friedrich et al. 2001;', 'Friedrich et al. 1999; Hua et al. 2009)', 'timescale: PPC+HOK+YD_B', '(Friedrich et al. 2004; Hua et al. 2009)'], 996);
      T(ctx, 'Younger Dryas', 943, 915, { size: 21, weight: 'bold', w: 160 });
      T(ctx, 'Holocene', 1117, 854, { size: 21, weight: 'bold', w: 101 });
      T(ctx, 'G22', 1000, 1038, { size: 8, color: '#8a8a8a' });
      leftAxis(ctx, h, 'y', [0, 0.5, 1, 1.5, 2, 2.5, 3], [[3, '3.0'], [2.5, '2.5'], [1, '1.0'], [0.5, '0.5'], [0, '0']]);
      rotTitle(ctx, 'ring width (mm)', 22, 926);
    },
  },
  {
    id: 'B', top: 1078, bottom: 1192,
    scales: { y: { type: 'linear', min: 0, max: 6, display: false } },
    datasets: () => [{
      data: SITES_T.map((t, i) => ({ x: t, y: SITES_N[i] })),
      stepped: 'before', borderColor: 'rgba(0,0,0,0)', borderWidth: 0, pointRadius: 0,
      fill: 'origin', backgroundColor: '#4b4b4d',
    }],
    lines: LINES_C, thick: [], topTicks: true,
    over: (ctx: any, h: any) => {
      T(ctx, 'B', 53, 1109, { size: 24, weight: 'bold' });
      descLines(ctx, ['number of sites yielding dendrochronologies', '(Friedrich et al. 2004; Schaub et al. 2008;', 'Kaiser et al. 2012)', 'timescale: see C, E, and F'], 1130);
      rightAxis(ctx, h, 'y', [0, 1, 2, 3, 4, 5, 6], [[6, '6'], [1, '1'], [0, '0']], 17);
      rotTitle(ctx, 'no. of sites', 1247, 1123);
    },
  },
  {
    id: 'A', top: 1192, bottom: 1537, padBottom: 72,
    scales: {
      y: { type: 'linear', min: -46.88, max: -34.56, display: false },
      y2: { type: 'linear', min: 0, max: 7.67, display: false },
    },
    datasets: () => [
      lineDs(NGRIP_D18O, {
        yAxisID: 'y', order: 2, borderWidth: 2.4, fill: 'start',
        backgroundColor: vGrad([[-35, '#1c1c1c'], [-38, '#2f2f2f'], [-40, '#4e4e4e'], [-42, '#6e6e6e'], [-44, '#959595'], [-46, '#cdcdcd'], [-46.88, '#ebebeb']]),
      }),
      lineDs(NGRIP_SO4, { yAxisID: 'y2', order: 1, borderWidth: 1, borderColor: '#111', fill: 'origin', backgroundColor: '#1e1e1e' }),
    ],
    lines: LINES_A, thick: THICK_A, topTicks: true, bottomTicks: true,
    between: (ctx: any) => {
      descLines(ctx, ['d^{18}O (Andersen et al. 2004) with ash shards', 'and layers as well as Ca^{2+} corrected sulphate', 'content indicated (Mortensen et al. 2005; see Fig. 30)', 'timescale: GICC05 (Vinther et al. 2006; Rasmussen', 'et al. 2006; Andersen et al. 2006; Svensson et al. 2008)'], 1453, 14.8);
    },
    over: (ctx: any, h: any) => {
      T(ctx, 'NGRIP', 53, 1227, { size: 26, weight: 'bold' });
      T(ctx, 'A', 53, 1362, { size: 26, weight: 'bold' });
      T(ctx, '‰', 36, 1195, { size: 14, align: 'center' });
      T(ctx, 'd^{18}O', 45, 1219, { size: 15, align: 'right' });
      T(ctx, 'GS-2b', 163, 1220, { size: 21, color: GREY_TXT, w: 61 });
      T(ctx, 'GS-2a', 451, 1220, { size: 21, color: GREY_TXT, w: 61 });
      T(ctx, 'Late Pleniglacial', 300, 1248, { size: 21, weight: 'bold', color: '#5a5a5a', w: 177 });
      T(ctx, 'GI-1d', 692, 1220, { size: 21, color: GREY_TXT, w: 54 });
      T(ctx, 'GI-1c_{2}', 755, 1220, { size: 21, color: GREY_TXT, w: 60 });
      T(ctx, 'GI-1b', 836, 1220, { size: 21, color: GREY_TXT, w: 55 });
      T(ctx, 'GS-1', 997, 1220, { size: 21, color: GREY_TXT, w: 46 });
      T(ctx, 'GH-', 1132, 1220, { size: 21, color: GREY_TXT, w: 40 });
      T(ctx, '11.4', 1134, 1249, { size: 21, color: GREY_TXT, w: 32 });
      T(ctx, 'Lateglacial Stadial', 921, 1249, { size: 21, weight: 'bold', color: '#5f5f5f', w: 198 });
      T(ctx, '(Younger Dryas)', 931, 1274, { size: 21, weight: 'bold', color: '#5f5f5f', w: 177 });
      T(ctx, 'GI-1e', 634, 1395, { size: 21, color: '#ffffff', w: 55 });
      T(ctx, 'GI-1c_{3}', 722, 1395, { size: 21, color: '#ffffff', w: 62 });
      T(ctx, 'GI-1c_{1}', 790, 1395, { size: 21, color: '#ffffff', w: 59 });
      T(ctx, 'GI-1a', 876, 1395, { size: 21, color: '#ffffff', w: 53 });
      T(ctx, 'GH', 1123, 1395, { size: 21, color: '#ffffff', w: 30 });
      T(ctx, 'Lateglacial Interstadial', 661, 1442, { size: 21, weight: 'bold', color: '#ffffff', w: 249 });
      T(ctx, 'Holocene', 1121, 1442, { size: 21, weight: 'bold', color: '#ffffff', w: 101 });
      for (const x of [594, 904, 1174]) T(ctx, '?', x, 1422, { size: 18, weight: 'bold', align: 'center' });
      leftAxis(ctx, h, 'y', [-36, -38, -40, -42, -44, -46], [[-36, '-36'], [-38, '-38'], [-40, '-40'], [-42, '-42'], [-44, '-44']]);
      rightAxis(ctx, h, 'y2', [0, 0.5, 1, 1.5, 2], [[0, '0'], [1, '1'], [2, '2']], 17);
      rotTitle(ctx, 'SO_{4}^{2-}-Ca^{2+} (pptw)', 1247, 1376, 15, 114);
      X_TICK_VALUES.forEach((v, i) => T(ctx, X_TICK_LABELS[i], h.px(v), 1564, { size: 21, align: 'center', base: 'middle', w: 37 }));
      T(ctx, 'kyrs cal. b2k', 637, 1599, { size: 21, align: 'center', base: 'middle', w: 132 });
    },
  },
];

function makeDecor(spec: any) {
  const helpers = (chart: any) => {
    const a = chart.chartArea;
    return {
      px: (t: number) => chart.scales.x.getPixelForValue(t),
      py: (id: string, v: number) => chart.scales[id].getPixelForValue(v) + spec.canvasTop,
      left: a.left, right: a.right, top: a.top + spec.canvasTop, bottom: a.bottom + spec.canvasTop,
    };
  };
  return {
    id: 'decor',
    beforeDatasetsDraw(chart: any) {
      const { ctx, chartArea: a } = chart;
      const xs = chart.scales.x;
      ctx.save();
      ctx.fillStyle = BAND;
      for (const [t1, t2] of GREY_BANDS) {
        const p1 = xs.getPixelForValue(t1);
        const p2 = xs.getPixelForValue(t2);
        ctx.fillRect(Math.min(p1, p2), a.top, Math.abs(p2 - p1), a.bottom - a.top);
      }
      ctx.restore();
    },
    afterDatasetDraw(chart: any, args: any) {
      if (spec.between && args.index === 0) {
        const ctx = chart.ctx;
        ctx.save();
        ctx.translate(0, -spec.canvasTop);
        spec.between(ctx, helpers(chart));
        ctx.restore();
      }
    },
    afterDatasetsDraw(chart: any) {
      const { ctx, chartArea: a } = chart;
      const xs = chart.scales.x;
      ctx.save();
      ctx.strokeStyle = '#3c3c3c';
      ctx.lineWidth = 1.1;
      for (const t of spec.lines) { const x = Math.round(xs.getPixelForValue(t)) + 0.5; seg(ctx, x, a.top, x, a.bottom); }
      ctx.strokeStyle = '#111';
      ctx.lineWidth = 2.2;
      for (const t of spec.thick) { const x = xs.getPixelForValue(t); seg(ctx, x, a.top, x, a.bottom); }
      ctx.lineWidth = 2.2;
      ctx.strokeStyle = INK;
      for (let i = 110; i <= 180; i++) {
        const x = xs.getPixelForValue(i / 10);
        const len = i % 5 === 0 ? 14 : 8;
        if (spec.topTicks) seg(ctx, x, a.top, x, a.top + len);
        if (spec.bottomTicks) seg(ctx, x, a.bottom, x, a.bottom + len);
      }
      ctx.lineWidth = 2.6;
      ctx.strokeStyle = '#111';
      ctx.strokeRect(a.left, a.top, a.right - a.left, a.bottom - a.top);
      ctx.restore();
      ctx.save();
      ctx.translate(0, -spec.canvasTop);
      spec.over?.(ctx, helpers(chart));
      ctx.restore();
    },
  };
}

function PanelCanvas({ spec }: { spec: any }) {
  const ref = useRef<HTMLCanvasElement | null>(null);
  const padTop = Math.min(14, spec.top);
  const padBottom = spec.padBottom ?? 14;
  spec.canvasTop = spec.top - padTop;
  const height = spec.bottom + padBottom - spec.canvasTop;
  useEffect(() => {
    if (!ref.current) return;
    const chart = new Chart(ref.current, {
      type: 'line',
      data: { datasets: spec.datasets() },
      options: {
        animation: false,
        responsive: false,
        maintainAspectRatio: false,
        events: [],
        layout: { padding: { left: 50, right: 36, top: padTop, bottom: padBottom } },
        plugins: { legend: { display: false }, tooltip: { enabled: false }, title: { display: false } },
        elements: { point: { radius: 0 } },
        scales: {
          x: { type: 'linear', min: 11, max: 18, reverse: true, display: false },
          ...spec.scales,
        },
      },
      plugins: [makeDecor(spec)],
    } as any);
    return () => chart.destroy();
  }, []);
  return (
    <canvas
      ref={ref}
      width={1260}
      height={height}
      style={{ position: 'absolute', left: 0, top: spec.canvasTop, width: 1260, height }}
    />
  );
}

export default function App() {
  return (
    <div style={{ position: 'absolute', left: 0, top: 0, width: 1260, height: 1609, background: '#ffffff', overflow: 'hidden' }}>
      {SPECS.map((s) => <PanelCanvas key={s.id} spec={s} />)}
    </div>
  );
}
